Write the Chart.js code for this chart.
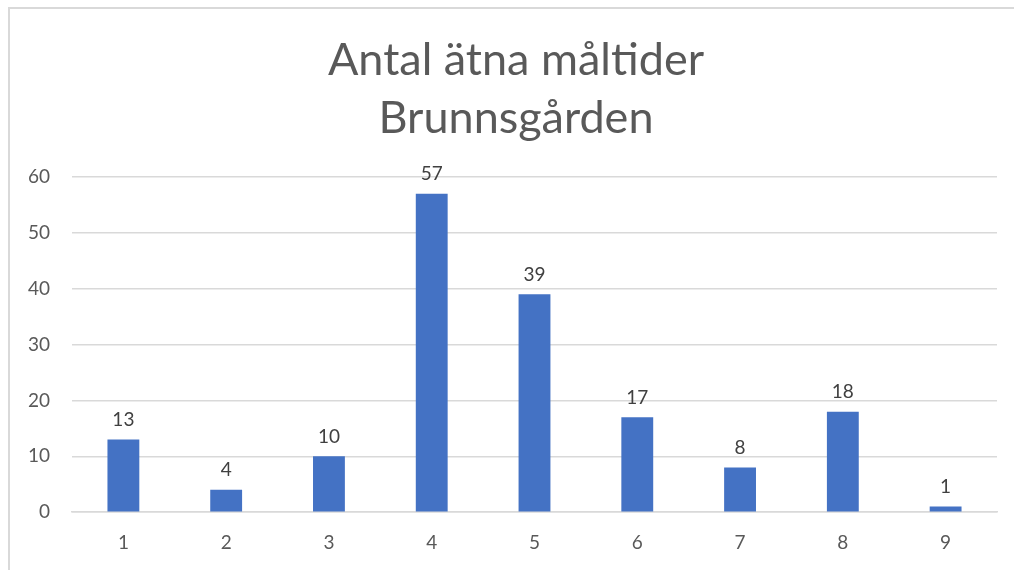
<!DOCTYPE html>
<html>
<head>
<meta charset="utf-8">
<script src="https://cdn.jsdelivr.net/npm/chart.js@4"></script>
<style>
  html, body { margin: 0; padding: 0; background: #fff; overflow: hidden; }
  #frame {
    position: absolute; left: 8px; top: 7px; width: 1020px; height: 580px;
    border-left: 2px solid #d9d9d9; border-top: 2px solid #d9d9d9;
  }
  #wrap { position: absolute; left: 0; top: 0; width: 1014px; height: 570px; }
</style>
</head>
<body>
<div id="frame"></div>
<div id="wrap"><canvas id="chart"></canvas></div>
<script>
  // kategorier och värden
  var categories = ['1', '2', '3', '4', '5', '6', '7', '8', '9'];
  var meals = [13, 4, 10, 57, 39, 17, 8, 18, 1];
  var titleLines = ['Antal ätna måltider', 'Brunnsgården'];

  var fontFamily = 'Lato, "Liberation Sans", sans-serif';

  // etiketter ovanför staplarna
  var valueLabels = {
    id: 'valueLabels',
    afterDatasetsDraw: function (chart) {
      var ctx = chart.ctx;
      var meta = chart.getDatasetMeta(0);
      ctx.save();
      ctx.font = '19px ' + fontFamily;
      ctx.fillStyle = '#404040';
      ctx.textAlign = 'center';
      ctx.textBaseline = 'bottom';
      meta.data.forEach(function (bar, i) {
        ctx.fillText(meals[i], bar.x, bar.y - 10);
      });
      ctx.restore();
    }
  };

  // rubriken ritas lite till höger om mitten, som i originalet
  var chartTitle = {
    id: 'chartTitle',
    afterDraw: function (chart) {
      var ctx = chart.ctx;
      ctx.save();
      ctx.font = '45px ' + fontFamily;
      ctx.fillStyle = '#595959';
      ctx.textAlign = 'center';
      ctx.textBaseline = 'middle';
      titleLines.forEach(function (line, i) {
        ctx.fillText(line, 516, 60 + i * 58);
      });
      ctx.restore();
    }
  };

  var ctx = document.getElementById('chart').getContext('2d');
  var chart = new Chart(ctx, {
    type: 'bar',
    data: {
      labels: categories,
      datasets: [{
        data: meals,
        backgroundColor: '#4472C4',
        barPercentage: 0.31,
        categoryPercentage: 1
      }]
    },
    options: {
      responsive: true,
      maintainAspectRatio: false,
      animation: false,
      layout: { padding: { left: 8, right: 17, top: 177, bottom: 5 } },
      plugins: {
        legend: { display: false },
        tooltip: { enabled: false },
        title: { display: false }
      },
      scales: {
        x: {
          grid: { display: false },
          border: { color: '#d9d9d9', width: 1.5 },
          ticks: { color: '#595959', font: { family: fontFamily, size: 19 }, padding: 11 }
        },
        y: {
          min: 0,
          max: 60,
          afterFit: function (scale) { scale.width = 64; },
          ticks: { stepSize: 10, color: '#595959', font: { family: fontFamily, size: 19 }, padding: 22 },
          grid: { color: '#d9d9d9', lineWidth: 1.5, drawTicks: false },
          border: { display: false }
        }
      }
    },
    plugins: [valueLabels, chartTitle]
  });
</script>
</body>
</html>
